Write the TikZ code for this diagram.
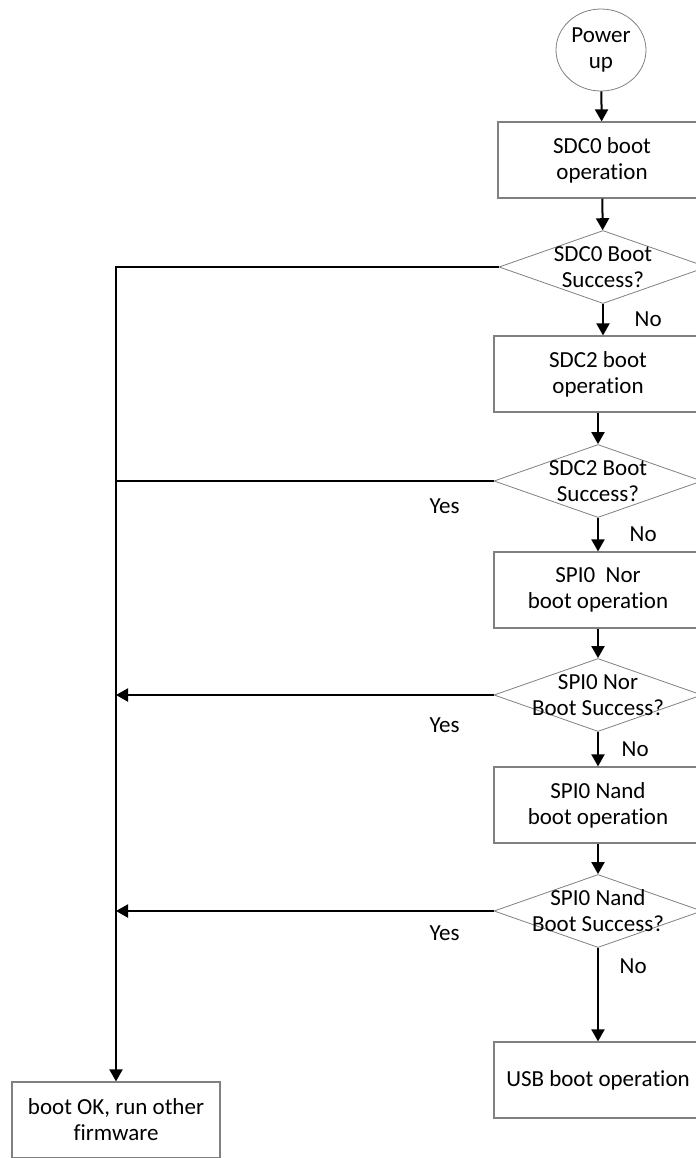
\documentclass[tikz,border=0pt]{standalone}
\usepackage{fontspec}
\setmainfont{Carlito}[Ligatures=NoCommon]
\usetikzlibrary{shapes.geometric,arrows.meta}

\begin{document}
\begin{tikzpicture}[x=0.5pt, y=-0.5pt, >={Triangle[width=6.5pt,length=6pt]},
    font=\fontsize{11.5}{13}\selectfont,
    start/.style={ellipse, draw=gray, line width=0.4pt, minimum width=45pt, minimum height=41pt, inner sep=0pt, align=center},
    process/.style={draw=gray, line width=0.6pt, minimum width=104pt, minimum height=38pt, inner sep=0pt, align=center},
    decision/.style={diamond, draw=gray, line width=0.4pt, minimum width=104pt, minimum height=36.5pt, inner sep=0pt},
    flow/.style={->, line width=1pt},
    plainline/.style={line width=1pt}]
    \useasboundingbox (0,0) rectangle (696,1158);
    \clip (0,0) rectangle (696,1158);

    \node[start] (pwr) at (601,50) {Power\\up};
    \node[process] (sdc0) at (602,160) {SDC0 boot\\operation};
    \node[decision, label={[align=center]center:SDC0 Boot\\Success?}] (q0) at (603,267) {};
    \node[process] (sdc2) at (598,374) {SDC2 boot\\operation};
    \node[decision, label={[align=center]center:SDC2 Boot\\Success?}] (q2) at (598,481) {};
    \node[process] (nor) at (598,590) {SPI0\ \ Nor\\boot operation};
    \node[decision, label={[align=center]center:SPI0 Nor\\Boot Success?}] (q3) at (598,695) {};
    \node[process] (nand) at (598,805) {SPI0 Nand\\boot operation};
    \node[decision, label={[align=center]center:SPI0 Nand\\Boot Success?}] (q4) at (598,911) {};
    \node[process] (usb) at (598,1080) {USB boot operation};
    \node[process] (ok) at (116,1120) {boot OK, run other\\firmware};

    \draw[flow] (pwr) -- (sdc0);
    \draw[flow] (sdc0) -- (q0);
    \draw[flow] (q0) -- node[right, xshift=12pt] (no0) {No} (q0 |- sdc2.north);
    \draw[flow] (sdc2) -- (q2);
    \draw[flow] (q2) -- node[right, xshift=12pt] (no2) {No} (nor);
    \draw[flow] (nor) -- (q3);
    \draw[flow] (q3) -- node[right, xshift=8pt] (no3) {No} (nand);
    \draw[flow] (nand) -- (q4);
    \draw[flow] (q4) -- node[right, pos=0.2, xshift=7pt] (no4) {No} (usb);

    \draw[flow] (q0.west) -| (ok.north);
    \draw[plainline] (q2.west) -- node[below, pos=0.13, yshift=-5pt] (yes2) {Yes} (q2.west -| ok.north);
    \draw[flow] (q3.west) -- node[below, pos=0.13, yshift=-7.5pt] (yes3) {Yes} (q3.west -| ok.north);
    \draw[flow] (q4.west) -- node[below, pos=0.13, yshift=-3.5pt] (yes4) {Yes} (q4.west -| ok.north);
\end{tikzpicture}
\end{document}
